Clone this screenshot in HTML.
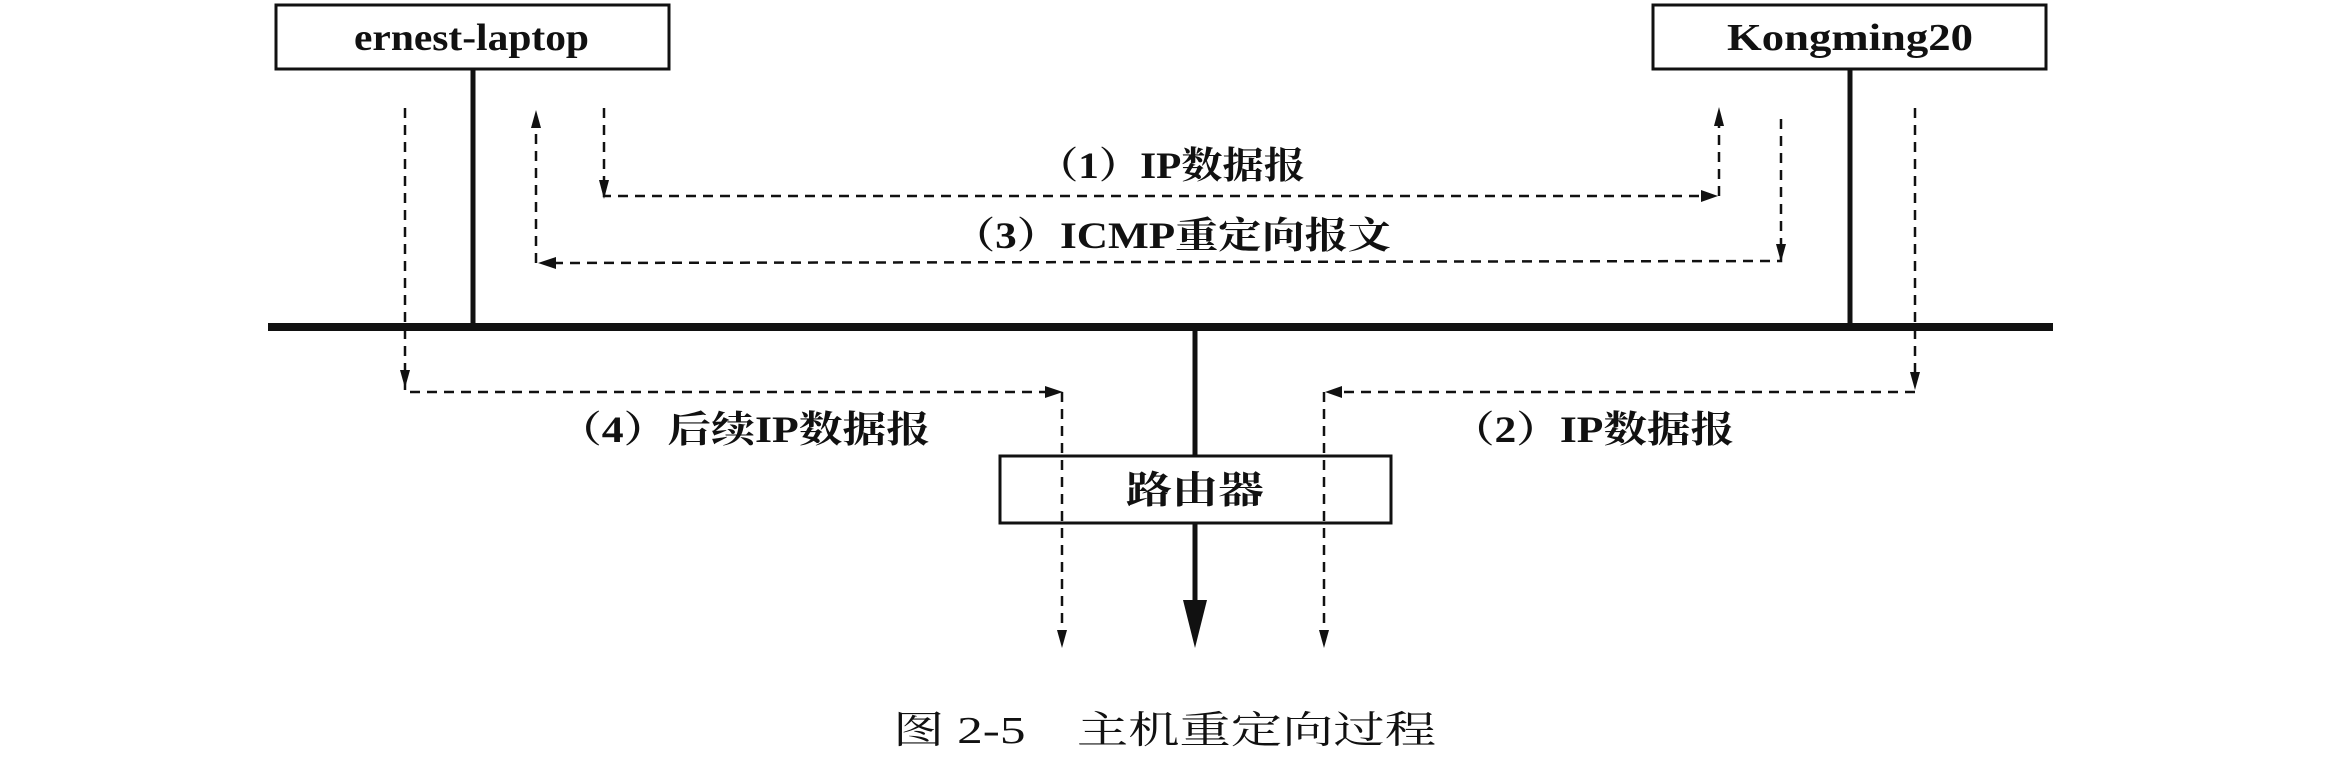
<!DOCTYPE html>
<html><head><meta charset="utf-8"><style>
html,body{margin:0;padding:0;background:#fff;}
svg text{font-family:"Liberation Serif","Noto Serif CJK SC",serif;font-weight:bold;fill:#111;}
</style></head><body>
<svg width="2333" height="761" viewBox="0 0 2333 761" xmlns="http://www.w3.org/2000/svg">
<g stroke="#111" fill="none">
<rect x="276" y="5" width="393" height="64" stroke-width="3"/>
<rect x="1653" y="5" width="393" height="64" stroke-width="3"/>
<line x1="473" y1="69" x2="473" y2="326" stroke-width="5"/>
<line x1="1850" y1="69" x2="1850" y2="326" stroke-width="5"/>
<line x1="268" y1="327" x2="2053" y2="327" stroke-width="8"/>
<line x1="1195" y1="327" x2="1195" y2="456" stroke-width="5"/>
<rect x="1000" y="456" width="391" height="67" stroke-width="3"/>
<line x1="1195" y1="523" x2="1195" y2="610" stroke-width="5"/>
<g stroke-width="2.5" stroke-dasharray="10,7">
<polyline points="405,108 405,392 1050,392"/>
<polyline points="1062,392 1062,640"/>
<polyline points="604,108 604,196 1705,196"/>
<polyline points="1719,196 1719,118"/>
<polyline points="1781,119 1781,261 548,263"/>
<polyline points="536,263 536,120"/>
<polyline points="1915,108 1915,385"/>
<polyline points="1915,392 1338,392"/>
<polyline points="1324,392 1324,640"/>
</g>
</g>
<g fill="#111">
<polygon points="1183,600 1207,600 1195,648"/>
<polygon points="599,180 609,180 604,199"/>
<polygon points="1701,190 1701,202 1718,196"/>
<polygon points="1714,126 1724,126 1719,107"/>
<polygon points="1776,244 1786,244 1781,262"/>
<polygon points="556,257 556,269 538,263"/>
<polygon points="531,128 541,128 536,110"/>
<polygon points="400,370 410,370 405,388"/>
<polygon points="1045,386 1045,398 1063,392"/>
<polygon points="1057,630 1067,630 1062,648"/>
<polygon points="1910,372 1920,372 1915,390"/>
<polygon points="1342,386 1342,398 1325,392"/>
<polygon points="1319,630 1329,630 1324,648"/>
</g>
<text x="354" y="50" font-size="38" textLength="235" lengthAdjust="spacingAndGlyphs">ernest-laptop</text>
<text x="1727" y="50" font-size="38" textLength="246" lengthAdjust="spacingAndGlyphs">Kongming20</text>
<text x="1037" y="178" font-size="37" textLength="268" lengthAdjust="spacingAndGlyphs">（1）IP数据报</text>
<text x="952" y="248" font-size="37" textLength="439" lengthAdjust="spacingAndGlyphs">（3）ICMP重定向报文</text>
<text x="558" y="442" font-size="37" textLength="372" lengthAdjust="spacingAndGlyphs">（4）后续IP数据报</text>
<text x="1451" y="442" font-size="37" textLength="283" lengthAdjust="spacingAndGlyphs">（2）IP数据报</text>
<text x="1126" y="503" font-size="38" textLength="138" lengthAdjust="spacingAndGlyphs">路由器</text>
<text x="893" y="743" font-size="38" textLength="543" lengthAdjust="spacingAndGlyphs" style="font-weight:normal">图 2-5　主机重定向过程</text>
</svg>
</body></html>
